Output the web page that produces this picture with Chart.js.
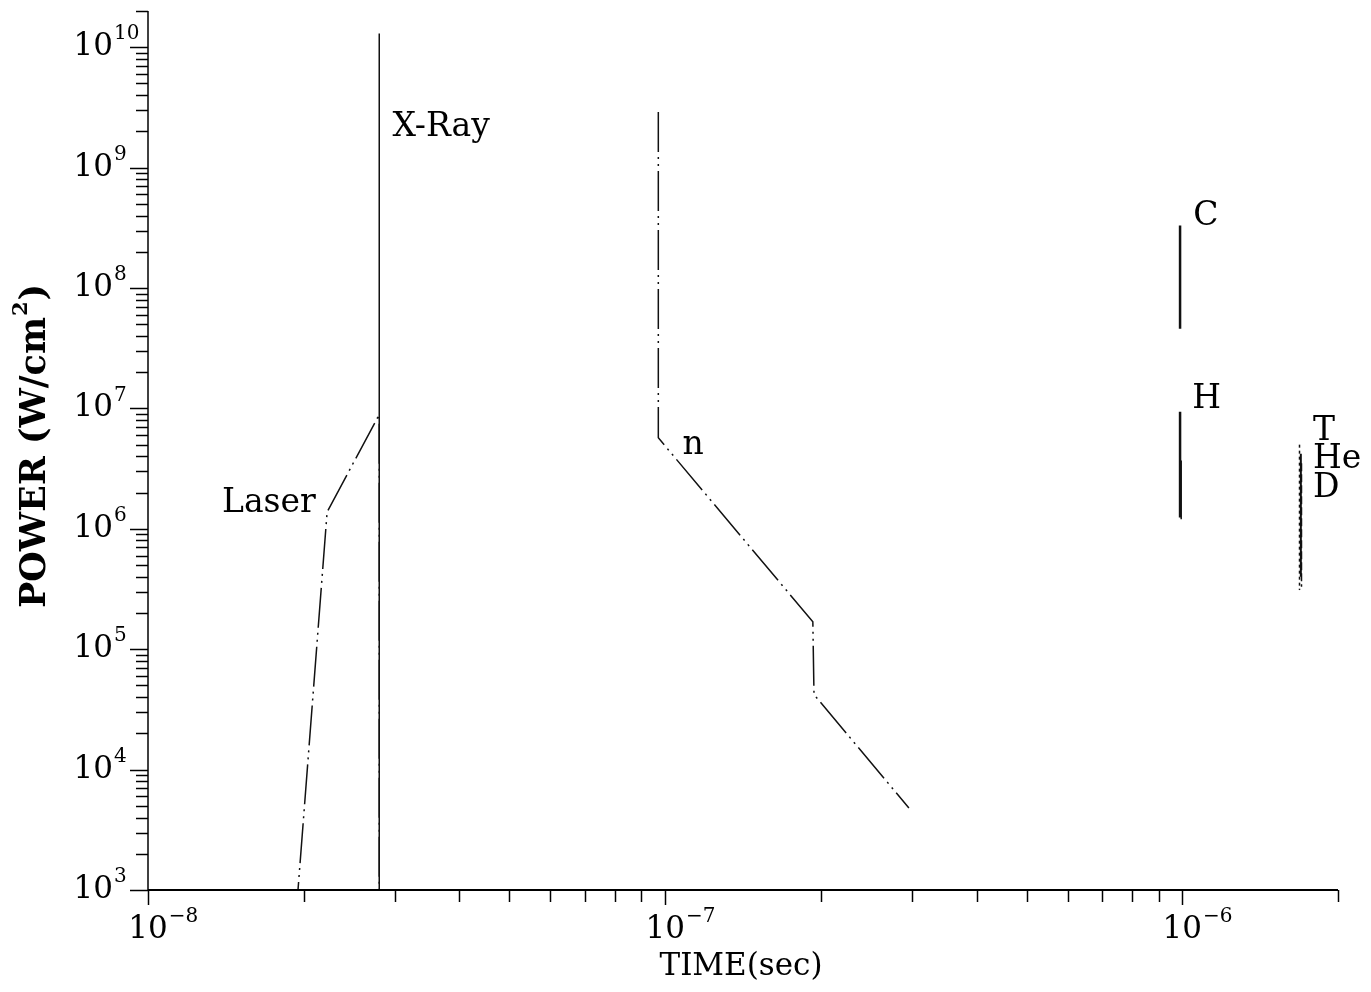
<!DOCTYPE html>
<html>
<head>
<meta charset="utf-8">
<script src="https://cdn.jsdelivr.net/npm/chart.js@4.4.1/dist/chart.umd.min.js"></script>
<style>
  body { margin: 0; background: #fff; }
  #wrap { width: 1371px; height: 992px; }
</style>
</head>
<body>
<div id="wrap"><canvas id="powerChart" width="1371" height="992"></canvas></div>
<script>
// time in seconds, power in W/cm^2
const xrayTime = [2.8e-8, 2.8e-8];
const xrayPower = [1e3, 1.3e10];
const laserTime = [1e-8, 1.95e-8, 2.22e-8, 2.8e-8, 2.8e-8];
const laserPower = [1e3, 1e3, 1.38e6, 8.9e6, 1e3];
const neutronTime = [9.7e-8, 9.7e-8, 1.93e-7, 1.94e-7, 2.96e-7];
const neutronPower = [2.9e9, 5.7e6, 1.69e5, 4.2e4, 4.8e3];
const carbonTime = [9.9e-7, 9.9e-7];
const carbonPower = [3.3e8, 4.6e7];
const hydrogenTime = [9.9e-7, 9.9e-7];
const hydrogenPower = [9.4e6, 1.24e6];
const hydrogenTailTime = [9.95e-7, 9.95e-7];
const hydrogenTailPower = [3.7e6, 1.2e6];
const tritiumTime = [1.685e-6, 1.685e-6];
const tritiumPower = [5e6, 3.1e5];
const heliumTime = [1.695e-6, 1.695e-6];
const heliumPower = [4.2e6, 4.0e5];
const deuteriumTime = [1.70e-6, 1.70e-6];
const deuteriumPower = [3.5e6, 3.3e5];

// curve names and where they are written (data coordinates)
const labelNames = ['X-Ray', 'Laser', 'n', 'C', 'H', 'T', 'He', 'D'];
const labelTimes = [2.97e-8, 1.39e-8, 1.08e-7, 1.05e-6, 1.045e-6, 1.79e-6, 1.79e-6, 1.79e-6];
const labelPowers = [2.16e9, 1.62e6, 4.9e6, 3.9e8, 1.18e7, 6.4e6, 3.75e6, 2.15e6];

// tick decades (exponents of 10)
const xDecades = [-8, -7, -6];
const yDecades = [3, 4, 5, 6, 7, 8, 9, 10];

const FONT = '"DejaVu Serif", "Liberation Serif", serif';

function pts(times, powers) {
  return times.map((t, i) => ({ x: t, y: powers[i] }));
}

function line(times, powers, width, dash) {
  return {
    data: pts(times, powers),
    borderColor: '#111',
    borderWidth: width,
    borderDash: dash || [],
    pointRadius: 0,
    fill: false,
    tension: 0
  };
}

const dashDotDot = [40, 5, 2, 5, 2, 5];

// writes 10 with a raised exponent; (x, y) is where "10" sits
function drawPower(ctx, exp, x, y, align) {
  const base = '10';
  const sup = String(exp).replace('-', '\u2212');
  ctx.font = '31px ' + FONT;
  const w = ctx.measureText(base).width;
  let left = x;
  if (align === 'right') left = x - w;
  if (align === 'center') left = x - w / 2;
  ctx.textAlign = 'left';
  ctx.textBaseline = 'middle';
  ctx.fillText(base, left, y);
  ctx.font = '20px ' + FONT;
  ctx.fillText(sup, left + w + 1, y - 13);
}

const frame = {
  id: 'frame',
  afterDraw(chart) {
    const { ctx, chartArea: a, scales: { x, y } } = chart;
    ctx.save();
    ctx.strokeStyle = '#000';
    ctx.fillStyle = '#000';

    ctx.lineWidth = 1.5;
    ctx.beginPath();
    ctx.moveTo(a.left, a.top);
    ctx.lineTo(a.left, a.bottom);
    ctx.stroke();
    ctx.lineWidth = 2;
    ctx.beginPath();
    ctx.moveTo(a.left, a.bottom);
    ctx.lineTo(a.right, a.bottom);
    ctx.stroke();

    // y ticks, on the outside
    ctx.lineWidth = 1.5;
    yDecades.forEach(e => {
      for (let k = 1; k <= 9; k++) {
        const v = k * Math.pow(10, e);
        if (v > y.max * 1.0001) break;
        const py = Math.round(y.getPixelForValue(v)) + 0.5;
        const len = k === 1 ? 18 : 12;
        ctx.beginPath();
        ctx.moveTo(a.left - len, py);
        ctx.lineTo(a.left, py);
        ctx.stroke();
      }
      drawPower(ctx, e, a.left - 35, y.getPixelForValue(Math.pow(10, e)), 'right');
    });

    // x ticks, below the axis
    xDecades.forEach(e => {
      for (let k = 1; k <= 9; k++) {
        const v = k * Math.pow(10, e);
        if (v > x.max * 1.0001) break;
        const px = Math.round(x.getPixelForValue(v)) + 0.5;
        const len = k === 1 ? 15 : 12;
        ctx.beginPath();
        ctx.moveTo(px, a.bottom);
        ctx.lineTo(px, a.bottom + len);
        ctx.stroke();
      }
      drawPower(ctx, e, x.getPixelForValue(Math.pow(10, e)), a.bottom + 40, 'center');
    });

    // axis titles
    ctx.font = '31px ' + FONT;
    ctx.textAlign = 'center';
    ctx.textBaseline = 'middle';
    ctx.fillText('TIME(sec)', 741, 967);

    ctx.save();
    ctx.translate(36, 447);
    ctx.rotate(-Math.PI / 2);
    const big = 'bold 35px ' + FONT, small = 'bold 21px ' + FONT;
    const p1 = 'POWER (W/cm', p2 = '2', p3 = ')';
    ctx.font = big;
    const w1 = ctx.measureText(p1).width;
    const w3 = ctx.measureText(p3).width;
    ctx.font = small;
    const w2 = ctx.measureText(p2).width;
    const sx = -(w1 + w2 + w3) / 2;
    ctx.textAlign = 'left';
    ctx.font = big;
    ctx.fillText(p1, sx, 0);
    ctx.font = small;
    ctx.fillText(p2, sx + w1 + 1, -14);
    ctx.font = big;
    ctx.fillText(p3, sx + w1 + w2 + 2, 0);
    ctx.restore();

    // curve names
    ctx.font = '33px ' + FONT;
    ctx.textAlign = 'left';
    ctx.textBaseline = 'middle';
    labelNames.forEach((name, i) => {
      ctx.fillText(name, x.getPixelForValue(labelTimes[i]), y.getPixelForValue(labelPowers[i]));
    });
    ctx.restore();
  }
};

new Chart(document.getElementById('powerChart'), {
  type: 'line',
  data: {
    datasets: [
      line(xrayTime, xrayPower, 1.5),
      line(laserTime, laserPower, 1.5, dashDotDot),
      line(neutronTime, neutronPower, 1.5, dashDotDot),
      line(carbonTime, carbonPower, 2.5),
      line(hydrogenTime, hydrogenPower, 2.5),
      line(hydrogenTailTime, hydrogenTailPower, 1.5),
      line(tritiumTime, tritiumPower, 1.5, [3, 3]),
      line(heliumTime, heliumPower, 2),
      line(deuteriumTime, deuteriumPower, 1.5, [8, 3])
    ]
  },
  options: {
    responsive: false,
    animation: false,
    layout: { padding: { left: 148, right: 33, top: 11, bottom: 102 } },
    plugins: { legend: { display: false }, tooltip: { enabled: false } },
    scales: {
      x: { type: 'logarithmic', min: 1e-8, max: 2e-6, display: false },
      y: { type: 'logarithmic', min: 1e3, max: 2e10, display: false }
    }
  },
  plugins: [frame]
});
</script>
</body>
</html>
